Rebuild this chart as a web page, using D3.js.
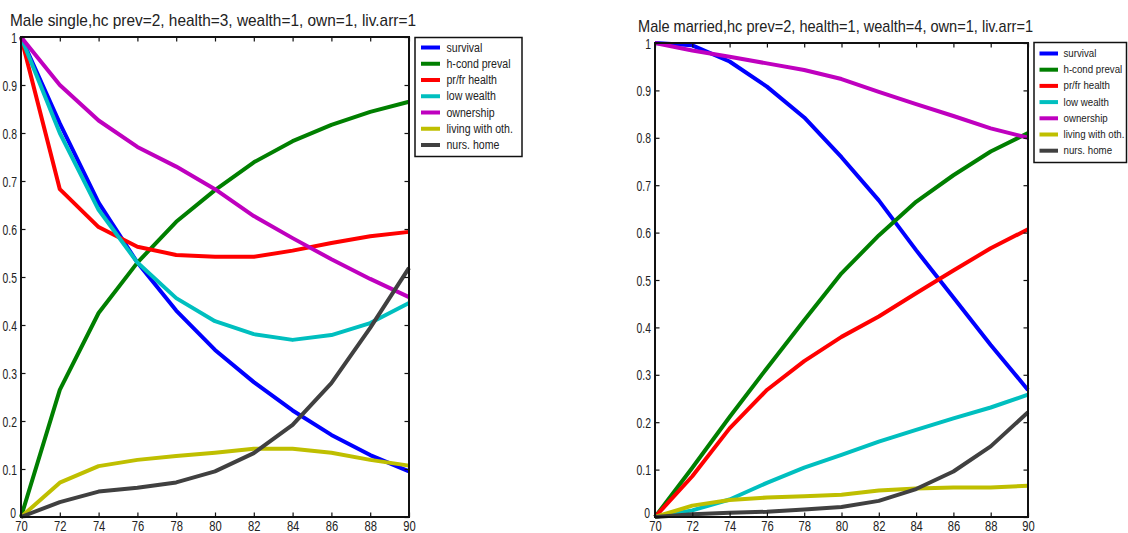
<!DOCTYPE html>
<html>
<head>
<meta charset="utf-8">
<script src="https://cdn.jsdelivr.net/npm/d3@7"></script>
<style>
  html, body { margin: 0; padding: 0; background: #fff; }
  svg { display: block; }
  text { font-family: "Liberation Sans", Arial, sans-serif; fill: #222; }
</style>
</head>
<body>
<svg id="chart" width="1128" height="533"></svg>
<script>
// ---- Data ----
const years = [70, 72, 74, 76, 78, 80, 82, 84, 86, 88, 90];
const xTicks = [70, 72, 74, 76, 78, 80, 82, 84, 86, 88, 90];
const yTicks = [0, 0.1, 0.2, 0.3, 0.4, 0.5, 0.6, 0.7, 0.8, 0.9, 1];
const seriesNames = ["survival", "h-cond preval", "pr/fr health", "low wealth", "ownership", "living with oth.", "nurs. home"];
const seriesColors = ["#0000ff", "#007f00", "#ff0000", "#00bfbf", "#bf00bf", "#bfbf00", "#404040"];

const leftTitle = "Male single,hc prev=2, health=3, wealth=1, own=1, liv.arr=1";
const leftSurvival  = [1, 0.82, 0.655, 0.53, 0.43, 0.348, 0.281, 0.222, 0.171, 0.129, 0.095];
const leftHcond     = [0, 0.265, 0.425, 0.53, 0.615, 0.681, 0.739, 0.783, 0.817, 0.844, 0.865];
const leftHealth    = [1, 0.683, 0.604, 0.563, 0.546, 0.542, 0.542, 0.555, 0.571, 0.585, 0.594];
const leftWealth    = [1, 0.8, 0.64, 0.53, 0.456, 0.408, 0.381, 0.369, 0.379, 0.404, 0.446];
const leftOwn       = [1, 0.9, 0.826, 0.771, 0.73, 0.683, 0.627, 0.581, 0.537, 0.496, 0.458];
const leftLiving    = [0, 0.0715, 0.106, 0.119, 0.127, 0.134, 0.142, 0.142, 0.134, 0.119, 0.107];
const leftNursing   = [0, 0.031, 0.053, 0.061, 0.072, 0.095, 0.133, 0.192, 0.279, 0.394, 0.519];

const rightTitle = "Male married,hc prev=2, health=1, wealth=4, own=1, liv.arr=1";
const rightSurvival = [1, 0.995, 0.961, 0.908, 0.843, 0.759, 0.668, 0.563, 0.463, 0.363, 0.268];
const rightHcond    = [0, 0.104, 0.211, 0.314, 0.415, 0.514, 0.594, 0.665, 0.721, 0.771, 0.81];
const rightHealth   = [0, 0.086, 0.187, 0.268, 0.329, 0.38, 0.423, 0.472, 0.52, 0.567, 0.607];
const rightWealth   = [0, 0.014, 0.037, 0.072, 0.104, 0.131, 0.159, 0.184, 0.208, 0.231, 0.258];
const rightOwn      = [1, 0.984, 0.971, 0.957, 0.943, 0.924, 0.897, 0.871, 0.846, 0.82, 0.8];
const rightLiving   = [0, 0.024, 0.036, 0.041, 0.044, 0.047, 0.056, 0.06, 0.062, 0.062, 0.066];
const rightNursing  = [0, 0.006, 0.009, 0.011, 0.016, 0.021, 0.034, 0.059, 0.096, 0.149, 0.221];

// ---- Layout ----
const panels = [
  {
    title: leftTitle, titleX: 10, titleY: 26, titleW: 406,
    x0: 21, x1: 409, yTop: 37, yBot: 517,
    series: [leftSurvival, leftHcond, leftHealth, leftWealth, leftOwn, leftLiving, leftNursing],
    leg: { x: 415, y: 37.5, w: 107, h: 119, row0: 47.5, step: 16.25, lx0: 421, lx1: 440, tx: 446.5, fs: 12, k: 0.88 }
  },
  {
    title: rightTitle, titleX: 638, titleY: 32, titleW: 395,
    x0: 655, x1: 1028, yTop: 43, yBot: 517,
    series: [rightSurvival, rightHcond, rightHealth, rightWealth, rightOwn, rightLiving, rightNursing],
    leg: { x: 1034, y: 42.5, w: 92.5, h: 120, row0: 53.5, step: 16.2, lx0: 1039.5, lx1: 1058, tx: 1063.5, fs: 10, k: 0.97 }
  }
];

// condense text horizontally (narrow font look)
function condense(sel, factor) {
  sel.each(function () {
    const w = this.getComputedTextLength();
    d3.select(this).attr("textLength", w * factor).attr("lengthAdjust", "spacingAndGlyphs");
  });
}

const svg = d3.select("#chart");

panels.forEach(p => {
  const x = d3.scaleLinear().domain([70, 90]).range([p.x0, p.x1]);
  const y = d3.scaleLinear().domain([0, 1]).range([p.yBot, p.yTop]);
  const g = svg.append("g");

  // title
  g.append("text")
    .attr("x", p.titleX).attr("y", p.titleY)
    .attr("font-size", 17)
    .attr("textLength", p.titleW)
    .attr("lengthAdjust", "spacingAndGlyphs")
    .text(p.title);

  // lines
  const line = d3.line().x((d, i) => x(years[i])).y(d => y(d));
  p.series.forEach((s, k) => {
    g.append("path")
      .datum(s)
      .attr("d", line)
      .attr("fill", "none")
      .attr("stroke", seriesColors[k])
      .attr("stroke-width", 4)
      .attr("stroke-linejoin", "round");
  });

  // axes (ticks inward)
  const tl = 4.5;
  const bottom = d3.axisBottom(x).tickValues(xTicks).tickSize(-tl).tickFormat(d3.format("d"));
  const top = d3.axisTop(x).tickValues(xTicks).tickSize(-tl).tickFormat("");
  const left = d3.axisLeft(y).tickValues(yTicks).tickSize(-tl).tickFormat(d => d === 0 || d === 1 ? String(d) : d3.format(".1f")(d));
  const right = d3.axisRight(y).tickValues(yTicks).tickSize(-tl).tickFormat("");

  const styleAxis = sel => {
    sel.select(".domain").remove();
    sel.selectAll(".tick line").attr("stroke", "#111").attr("stroke-width", 1.2);
    sel.selectAll(".tick text").attr("font-size", 14).attr("fill", "#222")
      .attr("font-family", "\"Liberation Sans\", Arial, sans-serif");
  };

  const bx = g.append("g").attr("transform", `translate(0,${p.yBot})`).call(bottom).call(styleAxis);
  bx.selectAll(".tick text").attr("dy", null).attr("y", 13.5).call(condense, 0.8);
  g.append("g").attr("transform", `translate(0,${p.yTop})`).call(top).call(styleAxis);
  const lx = g.append("g").attr("transform", `translate(${p.x0},0)`).call(left).call(styleAxis);
  lx.selectAll(".tick text").attr("x", -4).attr("dy", "0.36em").call(condense, 0.74);
  lx.selectAll(".tick").filter(d => d === 0).select("text").attr("dy", "0.05em").attr("x", -5);
  g.append("g").attr("transform", `translate(${p.x1},0)`).call(right).call(styleAxis);

  // frame
  g.append("rect")
    .attr("x", p.x0).attr("y", p.yTop)
    .attr("width", p.x1 - p.x0).attr("height", p.yBot - p.yTop)
    .attr("fill", "none").attr("stroke", "#111").attr("stroke-width", 2);

  // legend
  const L = p.leg;
  const lg = g.append("g");
  lg.append("rect")
    .attr("x", L.x).attr("y", L.y).attr("width", L.w).attr("height", L.h)
    .attr("fill", "#fff").attr("stroke", "#111").attr("stroke-width", 1.5);
  seriesNames.forEach((name, k) => {
    const yy = L.row0 + k * L.step;
    lg.append("line")
      .attr("x1", L.lx0).attr("x2", L.lx1).attr("y1", yy).attr("y2", yy)
      .attr("stroke", seriesColors[k]).attr("stroke-width", 4);
    lg.append("text")
      .attr("x", L.tx).attr("y", yy).attr("dy", "0.35em")
      .attr("font-size", L.fs)
      .text(name)
      .call(condense, L.k);
  });
});
</script>
</body>
</html>
